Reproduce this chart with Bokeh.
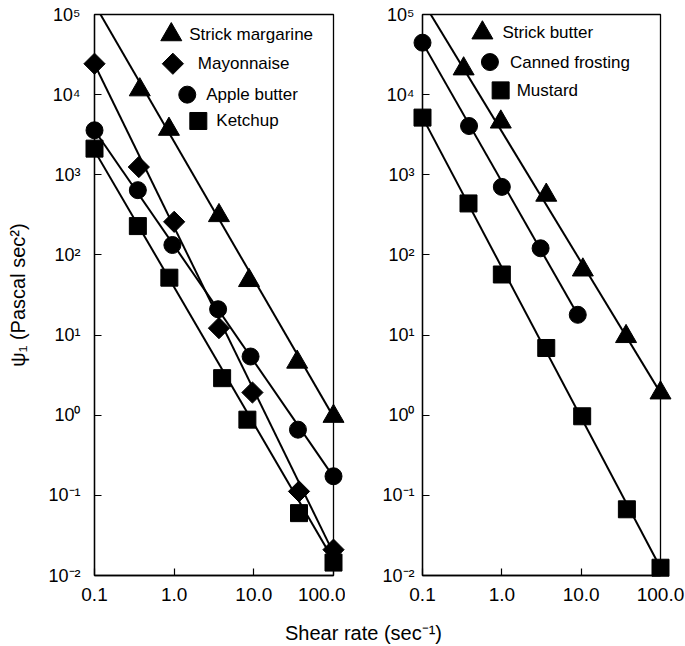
import numpy as np
from bokeh.plotting import figure
from bokeh.models import Range1d, FixedTicker, CustomJSTickFormatter, Label
from bokeh.layouts import column, row
from bokeh.embed import file_html
from bokeh.resources import INLINE

# ---------------- data ----------------
# Left panel
margarine_x = [0.37, 0.86, 3.65, 8.7, 35.0, 100.0]
margarine_y = [1.15e4, 3.7e3, 310.0, 48.0, 4.6, 0.97]
mayonnaise_x = [0.1, 0.36, 1.0, 3.65, 9.6, 36.9, 100.0]
mayonnaise_y = [2.43e4, 1.25e3, 259.0, 12.2, 1.92, 0.112, 0.021]
apple_x = [0.1, 0.35, 0.95, 3.56, 9.1, 35.8, 100.0]
apple_y = [3.59e3, 643.0, 133.0, 21.0, 5.4, 0.66, 0.173]
ketchup_x = [0.1, 0.35, 0.87, 4.0, 8.3, 36.9, 100.0]
ketchup_y = [2.12e3, 229.0, 52.0, 2.9, 0.88, 0.06, 0.0145]

# fitted lines (end points)
margarine_fit_x = [0.119, 100.0]
margarine_fit_y = [1.0e5, 0.95]
mayonnaise_fit_x = [0.1, 100.0]
mayonnaise_fit_y = [2.4e4, 0.019]
apple_fit_x = [0.1, 100.0]
apple_fit_y = [3.6e3, 0.17]
ketchup_fit_x = [0.1, 100.0]
ketchup_fit_y = [2.0e3, 0.0155]

# Right panel
butter_x = [0.33, 0.97, 3.63, 10.5, 36.8, 100.0]
butter_y = [2.1e4, 4.56e3, 557.0, 65.0, 9.6, 1.9]
frosting_x = [0.1, 0.386, 1.0, 3.08, 9.06]
frosting_y = [4.45e4, 4.06e3, 706.0, 121.0, 17.9]
mustard_x = [0.1, 0.38, 1.0, 3.63, 10.3, 37.7, 100.0]
mustard_y = [5.17e3, 439.0, 57.0, 6.9, 0.97, 0.067, 0.0125]

butter_fit_x = [0.127, 100.0]
butter_fit_y = [1.0e5, 1.9]
frosting_fit_x = [0.1, 9.06]
frosting_fit_y = [4.45e4, 17.9]
mustard_fit_x = [0.1, 100.0]
mustard_fit_y = [5.2e3, 0.0125]

x_ticks = [0.1, 1.0, 10.0, 100.0]
y_ticks = [1e-2, 1e-1, 1e0, 1e1, 1e2, 1e3, 1e4, 1e5]

left_names = ["Strick margarine", "Mayonnaise", "Apple butter", "Ketchup"]
right_names = ["Strick butter", "Canned frosting", "Mustard"]

# ---------------- styles ----------------
FONT = "Liberation Sans"
MARKERS = {
    "triangle": dict(marker="triangle", size=21, angle=0.0),
    "diamond": dict(marker="square", size=15, angle=np.pi / 4),
    "circle": dict(marker="circle", size=17, angle=0.0),
    "square": dict(marker="square", size=17, angle=0.0),
}

x_fmt = CustomJSTickFormatter(code="return tick.toFixed(1);")
y_fmt = CustomJSTickFormatter(code="""
const e = Math.round(Math.log10(tick));
const sup = {"-":"\u207b","0":"\u2070","1":"\u00b9","2":"\u00b2","3":"\u00b3","4":"\u2074","5":"\u2075","6":"\u2076","7":"\u2077","8":"\u2078","9":"\u2079"};
return "10" + String(e).split("").map(c => sup[c]).join("");
""")


def make_panel(width, bl, br, ylab_standoff, ylabel):
    p = figure(width=width, height=616, x_axis_type="log", y_axis_type="log",
               x_range=Range1d(0.1, 100.0), y_range=Range1d(1e-2, 1e5),
               output_backend="svg", toolbar_location=None,
               min_border_left=bl, min_border_right=br,
               min_border_top=14, min_border_bottom=41)
    p.grid.visible = False
    p.outline_line_color = "black"
    p.outline_line_width = 1.3
    p.outline_line_alpha = 1.0
    p.background_fill_color = "white"
    p.border_fill_color = "white"
    for ax in (p.xaxis[0], p.yaxis[0]):
        ax.axis_line_color = "black"
        ax.axis_line_width = 1.3
        ax.major_tick_in = 7
        ax.major_tick_out = 0
        ax.major_tick_line_width = 1.2
        ax.minor_tick_line_color = None
        ax.major_label_text_font = FONT
        ax.major_label_text_color = "black"
    p.xaxis.ticker = FixedTicker(ticks=x_ticks)
    p.yaxis.ticker = FixedTicker(ticks=y_ticks)
    p.xaxis.formatter = x_fmt
    p.yaxis.formatter = y_fmt
    p.xaxis.major_label_text_font_size = "19px"
    p.yaxis.major_label_text_font_size = "18px"
    p.xaxis.major_label_standoff = 12
    p.yaxis.major_label_standoff = ylab_standoff
    if ylabel:
        p.yaxis.axis_label = ylabel
        p.yaxis.axis_label_text_font = FONT
        p.yaxis.axis_label_text_font_size = "20px"
        p.yaxis.axis_label_text_font_style = "normal"
        p.yaxis.axis_label_text_color = "black"
        p.yaxis.axis_label_standoff = 16
    return p


def add_series(p, xs, ys, fx, fy, mk):
    p.line(fx, fy, line_color="black", line_width=2)
    p.scatter(xs, ys, color="black", level="overlay", **MARKERS[mk])


def add_legend(p, entries):
    for name, mk, lx, ly, off in entries:
        p.scatter([lx], [ly], color="black", level="overlay", **MARKERS[mk])
        p.add_layout(Label(x=lx, y=ly, x_offset=off, text=name,
                           text_font=FONT, text_font_size="17px",
                           text_baseline="middle", text_color="black"))


p1 = make_panel(345, 94, 12, 14, "\u03c8\u2081 (Pascal sec\u00b2)")
add_series(p1, margarine_x, margarine_y, margarine_fit_x, margarine_fit_y, "triangle")
add_series(p1, mayonnaise_x, mayonnaise_y, mayonnaise_fit_x, mayonnaise_fit_y, "diamond")
add_series(p1, apple_x, apple_y, apple_fit_x, apple_fit_y, "circle")
add_series(p1, ketchup_x, ketchup_y, ketchup_fit_x, ketchup_fit_y, "square")
add_legend(p1, [
    (left_names[0], "triangle", 0.92, 5.6e4, 18),
    (left_names[1], "diamond", 0.963, 2.43e4, 25),
    (left_names[2], "circle", 1.46, 1.0e4, 19),
    (left_names[3], "square", 2.01, 4.69e3, 18),
])

p2 = make_panel(340, 77, 25, 8, None)
add_series(p2, butter_x, butter_y, butter_fit_x, butter_fit_y, "triangle")
add_series(p2, frosting_x, frosting_y, frosting_fit_x, frosting_fit_y, "circle")
add_series(p2, mustard_x, mustard_y, mustard_fit_x, mustard_fit_y, "square")
add_legend(p2, [
    (right_names[0], "triangle", 0.569, 5.9e4, 20),
    (right_names[1], "circle", 0.708, 2.55e4, 20),
    (right_names[2], "square", 0.966, 1.13e4, 16),
])

p3 = figure(width=685, height=30, x_range=Range1d(0, 685), y_range=Range1d(0, 30),
            output_backend="svg", toolbar_location=None, min_border=0,
            x_axis_location=None, y_axis_location=None)
p3.grid.visible = False
p3.outline_line_color = None
p3.add_layout(Label(x=363, y=14, text="Shear rate (sec\u207b\u00b9)", text_align="center",
                    text_baseline="middle", text_font=FONT, text_font_size="20px",
                    text_color="black"))

layout = column(row(p1, p2), p3)
open("out.html", "w").write(file_html(layout, INLINE))
